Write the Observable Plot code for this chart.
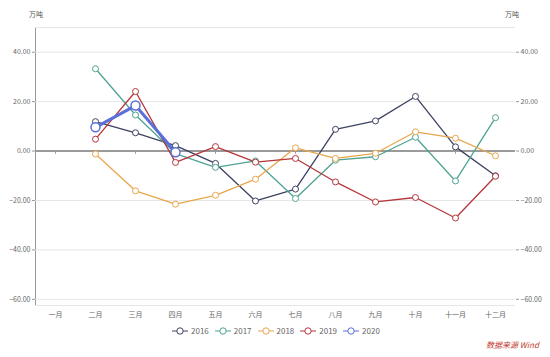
<!DOCTYPE html>
<html>
<head>
<meta charset="utf-8">
<script src="https://cdn.jsdelivr.net/npm/d3@7"></script>
<script src="https://cdn.jsdelivr.net/npm/@observablehq/plot@0.6"></script>
<style>
  html, body { margin: 0; padding: 0; background: #fff; }
  #wrap { position: relative; width: 550px; height: 357px; overflow: hidden; font-family: "Noto Sans CJK SC", "Noto Sans", sans-serif; }
  .unit { position: absolute; top: 9px; font-size: 7px; color: #555; }
  #legend { position: absolute; top: 325px; left: 172px; display: flex; gap: 6px; font-size: 8px; color: #666; }
  .item { display: flex; align-items: center; gap: 3px; }
  #source { position: absolute; top: 339px; left: 486px; font-size: 8px; color: #c0392b; font-style: italic; }
  svg text { fill: #666; }
</style>
</head>
<body>
<div id="wrap">
  <div class="unit" style="left:29px">万吨</div>
  <div class="unit" style="left:505px">万吨</div>
  <div id="legend"></div>
  <div id="source">数据来源 Wind</div>
</div>
<script>
const months = ["一月","二月","三月","四月","五月","六月","七月","八月","九月","十月","十一月","十二月"];
const years = ["2016","2017","2018","2019","2020"];
const colors = ["#3d4262","#4fa392","#e8a64c","#b5363b","#5a6fd8"];
const y2016 = [null, 11.9, 7.4, 2.2, -5.0, -20.2, -15.4, 8.8, 12.2, 22.1, 1.7, -10.0];
const y2017 = [null, 33.3, 14.6, -1.0, -6.6, -4.0, -19.2, -3.7, -2.3, 5.6, -12.1, 13.5];
const y2018 = [null, -1.2, -16.1, -21.5, -17.9, -11.4, 1.3, -3.0, -0.9, 7.8, 5.2, -1.9];
const y2019 = [null, 4.8, 24.1, -4.6, 1.8, -4.5, -3.0, -12.5, -20.6, -18.8, -27.1, -10.2];
const y2020 = [null, 9.6, 18.4, -0.5, null, null, null, null, null, null, null, null];
const yTicks = [-60, -40, -20, 0, 20, 40];
const gridVals = [50, 40, 20, -20, -40, -60, -62.5];
const zeroTickMonths = ["一月","三月","五月","七月","九月","十一月"];

const seriesVals = [y2016, y2017, y2018, y2019, y2020];
const data = [];
years.forEach((yr, i) => {
  seriesVals[i].forEach((v, j) => {
    if (v !== null) data.push({year: yr, month: months[j], value: v});
  });
});
const colorOf = Object.fromEntries(years.map((y, i) => [y, colors[i]]));

const marks = [
  Plot.ruleY(gridVals, {stroke: "#e6e6e6", strokeWidth: 1}),
  Plot.ruleY([0], {stroke: "#9a9a9a", strokeWidth: 2}),
  Plot.ruleX(zeroTickMonths, {y1: 0, y2: -1.3, stroke: "#9a9a9a"})
];
years.forEach(yr => {
  const d = data.filter(r => r.year === yr);
  const big = yr === "2020";
  marks.push(Plot.line(d, {x: "month", y: "value", stroke: colorOf[yr], strokeWidth: big ? 3 : 1.3}));
});
years.forEach(yr => {
  const d = data.filter(r => r.year === yr);
  const big = yr === "2020";
  marks.push(Plot.dot(d, {x: "month", y: "value", r: big ? 4.5 : 3, fill: "white", stroke: colorOf[yr], strokeWidth: big ? 1.5 : 1}));
});

const chart = Plot.plot({
  width: 550,
  height: 357,
  marginLeft: 35,
  marginRight: 35,
  marginTop: 27,
  marginBottom: 52,
  style: {fontFamily: "'Noto Sans CJK SC', 'Noto Sans', sans-serif", fontSize: "7px", color: "#999", background: "white"},
  x: {type: "point", domain: months, padding: 0.5, tickSize: 0, tickPadding: 7, label: null},
  y: {domain: [-62.5, 50], axis: "both", line: true, ticks: yTicks, tickFormat: d3.format(".2f"), tickSize: 3, tickPadding: 2, label: null},
  marks
});
chart.style.position = "absolute";
chart.style.left = "0";
chart.style.top = "0";
const wrap = document.getElementById("wrap");
wrap.insertBefore(chart, wrap.firstChild);
chart.querySelectorAll("text").forEach(t => t.setAttribute("fill", "#666"));

const legend = document.getElementById("legend");
years.forEach((yr, i) => {
  const it = document.createElement("div");
  it.className = "item";
  it.innerHTML = `<svg width="16" height="8"><line x1="0" y1="4" x2="16" y2="4" stroke="${colors[i]}" stroke-width="1"/><circle cx="8" cy="4" r="3.2" fill="white" stroke="${colors[i]}"/></svg><span>${yr}</span>`;
  legend.appendChild(it);
});
</script>
</body>
</html>
